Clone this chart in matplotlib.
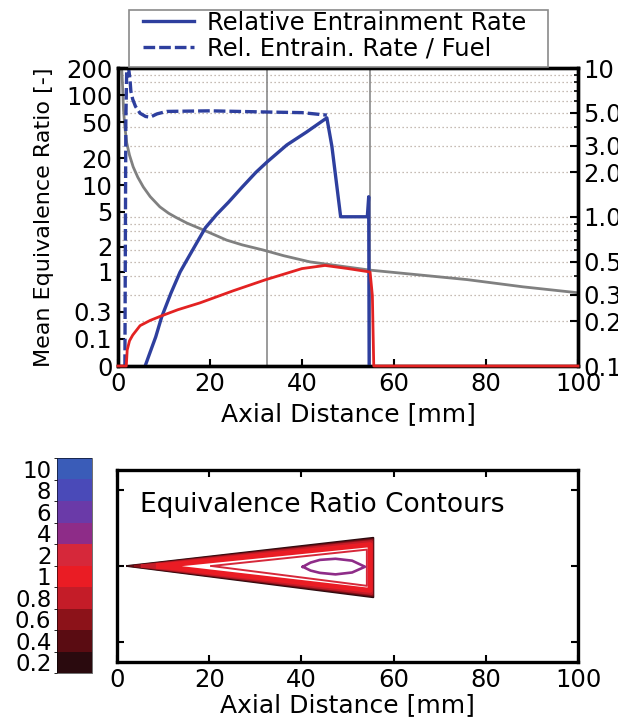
import numpy as np
import matplotlib
matplotlib.use("Agg")
import matplotlib.pyplot as plt
from matplotlib.colors import ListedColormap, BoundaryNorm
from matplotlib.cm import ScalarMappable
from matplotlib.patches import Rectangle
from matplotlib.ticker import LogLocator, NullLocator, NullFormatter

plt.rcParams['font.family'] = ['DejaVu Sans']

# ---- upper plot data ----
# relative entrainment rate (left axis)
rer_x = [5.9, 7.0, 8.2, 9.5, 11.5, 13.5, 15.0, 17.0, 19.0, 21.5, 24.0, 27.0, 30.0,
         32.4, 36.7, 41.0, 45.4, 46.5, 47.6, 48.4, 50.0, 52.0, 54.2, 54.5, 54.6]
rer_y = [0.0, 0.043, 0.11, 0.25, 0.54, 1.0, 1.4, 2.16, 3.3, 4.7, 6.4, 9.5, 13.9,
         18.1, 28.0, 39.0, 56.0, 27.0, 9.5, 4.4, 4.4, 4.4, 4.4, 7.4, 0.0]

# rel. entrainment rate / fuel (left axis)
rerf_x = [1.5, 1.7, 1.9, 2.3, 2.6, 2.8, 3.2, 3.8, 4.8, 6.0, 7.0, 8.5, 10.6, 20.0,
          32.4, 40.0, 45.4]
rerf_y = [0.0, 50.0, 200.0, 200.0, 150.0, 110.0, 90.0, 75.0, 63.0, 58.0, 57.0,
          62.0, 66.0, 67.0, 65.0, 64.0, 60.0]

# mean equivalence ratio (left axis)
mer_x = [0.0, 1.8, 2.0, 2.5, 3.2, 4.8, 7.0, 9.5, 13.0, 17.8, 25.0, 32.0, 40.0,
         45.0, 50.0, 54.8, 55.3, 55.6, 100.0]
mer_y = [0.0, 0.0, 0.05, 0.09, 0.12, 0.18, 0.22, 0.26, 0.32, 0.40, 0.58, 0.80,
         1.10, 1.20, 1.10, 1.00, 0.50, 0.0, 0.0]

# gray decay curve (right axis)
gray_x = [0.6, 0.8, 1.0, 1.2, 1.5, 1.9, 2.5, 3.3, 4.3, 5.5, 7.0, 9.1, 11.0, 12.7,
          15.0, 18.5, 23.6, 27.0, 31.6, 36.0, 41.7, 48.0, 54.8, 65.0, 75.9, 88.0,
          100.0]
gray_y = [12.0, 10.0, 7.5, 5.2, 4.0, 3.14, 2.6, 2.17, 1.85, 1.59, 1.37, 1.17, 1.06,
          0.99, 0.91, 0.82, 0.70, 0.65, 0.60, 0.55, 0.50, 0.47, 0.44, 0.41, 0.38,
          0.34, 0.31]

marker_lines = [32.3, 54.8]

left_ticks = [0, 0.1, 0.3, 1, 2, 5, 10, 20, 50, 100, 200]
left_labels = ['0', '0.1', '0.3', '1', '2', '5', '10', '20', '50', '100', '200']
right_ticks = [0.1, 0.2, 0.3, 0.5, 1, 2, 3, 5, 10]
right_labels = ['0.1', '0.2', '0.3', '0.5', '1.0', '2.0', '3.0', '5.0', '10']
x_ticks = [0, 20, 40, 60, 80, 100]

# ---- lower plot data: contour lines (x mm, y mm) ----
levels = ['0.2', '0.4', '0.6', '0.8', '1', '2', '4', '6', '8', '10']
c02_x = [2.2, 55.6, 55.6, 2.2]
c02_y = [0.0, 3.7, -4.1, 0.0]
c04_x = [3.0, 55.5, 55.5, 3.0]
c04_y = [0.0, 3.55, -3.95, 0.0]
c06_x = [4.0, 55.4, 55.4, 4.0]
c06_y = [0.0, 3.4, -3.8, 0.0]
c08_x = [5.5, 55.2, 55.2, 5.5]
c08_y = [0.0, 3.2, -3.6, 0.0]
c10_x = [9.0, 54.9, 54.9, 9.0]
c10_y = [0.0, 2.8, -3.2, 0.0]
c2_x = [20.5, 54.2, 54.2, 20.5]
c2_y = [0.0, 2.15, -2.6, 0.0]
c4_x = [40.3, 42.0, 44.0, 47.4, 51.0, 53.8, 51.0, 47.4, 44.0, 42.0, 40.3]
c4_y = [-0.1, 0.45, 0.8, 0.95, 0.7, -0.1, -0.85, -1.1, -0.9, -0.6, -0.1]

level_colors = ['#2a0a0e', '#5a0c12', '#8c1219', '#c41c28', '#ea1c24',
                '#d6283a', '#8e2c88', '#6a3aa8', '#4a4ab8', '#3a5cb8']

blue = '#2e3f9e'
red = '#e32222'
grey = '#808080'

W, H = 618, 719
fig = plt.figure(figsize=(W / 100, H / 100), dpi=100)


def fbox(l, t, r, b):
    return [l / W, 1 - b / H, (r - l) / W, (b - t) / H]


def fwd(y):
    return np.log10(1 + 10 * np.maximum(y, 0))


def inv(p):
    return (10 ** p - 1) / 10


# ---------------- upper plot ----------------
ax1 = fig.add_axes(fbox(118, 68, 578, 366))
ax2 = ax1.twinx()
ax1.set_zorder(ax2.get_zorder() + 1)
ax1.patch.set_visible(False)

ax2.set_yscale('log')
ax2.set_ylim(0.1, 10)
ax2.yaxis.set_major_locator(plt.FixedLocator(right_ticks))
ax2.set_yticklabels(right_labels)
ax2.yaxis.set_minor_locator(LogLocator(base=10, subs=np.arange(2, 10)))
ax2.yaxis.set_minor_formatter(NullFormatter())
ax2.grid(True, which='both', axis='y', linestyle=(0, (1, 2.2)), color='#b4a79c', lw=0.9)
ax2.plot(gray_x, gray_y, color=grey, lw=2)
for xv in marker_lines:
    ax2.axvline(xv, color=grey, lw=1.1)
ax2.tick_params(axis='y', which='major', direction='in', length=6, width=1.5,
                labelsize=17.5, pad=4)
ax2.tick_params(axis='y', which='minor', direction='in', length=3, width=1.2)

ax1.set_yscale('function', functions=(fwd, inv))
ax1.set_ylim(0, 200)
ax1.set_xlim(0, 100)
ax1.set_yticks(left_ticks)
ax1.set_yticklabels(left_labels)
ax1.yaxis.set_minor_locator(NullLocator())
ax1.set_xticks(x_ticks)
l1, = ax1.plot(rer_x, rer_y, color=blue, lw=2.4, label='Relative Entrainment Rate')
l2, = ax1.plot(rerf_x, rerf_y, color=blue, lw=2.4, dashes=(3.5, 1.2),
               label='Rel. Entrain. Rate / Fuel')
ax1.plot(mer_x, mer_y, color=red, lw=2, zorder=3, clip_on=False)
ax1.tick_params(axis='both', direction='in', length=5, width=1.5, labelsize=17.5)
ax1.tick_params(axis='y', pad=4)
ax1.tick_params(axis='x', pad=4)
ax1.set_xlabel('Axial Distance [mm]', fontsize=18, labelpad=5)
ax1.set_ylabel('Mean Equivalence Ratio [-]', fontsize=16, labelpad=9)
for a in (ax1, ax2):
    for s in a.spines.values():
        s.set_linewidth(2.4)

# legend box drawn by hand so it sits on top of the axes edge
fig.add_artist(Rectangle((129 / W, 1 - 67 / H), 419 / W, 57 / H, transform=fig.transFigure,
                         facecolor='white', edgecolor='#8a8a8a', lw=1.2, zorder=5))
leg = fig.legend([l1, l2], [l1.get_label(), l2.get_label()], loc='upper left',
                 bbox_to_anchor=(143 / W, 1 - 11 / H), frameon=False, fontsize=17.5,
                 borderpad=0, borderaxespad=0, handlelength=2.1, handletextpad=0.55,
                 labelspacing=0.05)
leg.set_zorder(6)

# ---------------- lower plot ----------------
ax3 = fig.add_axes(fbox(117, 470, 578, 662))
contours = [(c02_x, c02_y, 1.4), (c04_x, c04_y, 1.4), (c06_x, c06_y, 1.6),
            (c08_x, c08_y, 2.2), (c10_x, c10_y, 3.6), (c2_x, c2_y, 1.4),
            (c4_x, c4_y, 1.9)]
for i, (cx, cy, lw) in enumerate(contours):
    ax3.plot(cx, cy, color=level_colors[i], lw=lw, solid_joinstyle='round')
ax3.set_xlim(0, 100)
ax3.set_ylim(-12.6, 12.6)
ax3.set_xticks(x_ticks)
ax3.set_yticks([-10, 0, 10])
ax3.set_yticklabels([])
ax3.tick_params(direction='in', length=5, width=1.5, top=True, right=True,
                labelsize=17.5, pad=4)
ax3.set_xlabel('Axial Distance [mm]', fontsize=18, labelpad=1)
ax3.text(5, 8.0, 'Equivalence Ratio Contours', fontsize=19, va='center', ha='left')
for s in ax3.spines.values():
    s.set_linewidth(2.4)

# colorbar
cax = fig.add_axes(fbox(57, 458, 92, 673))
cmap = ListedColormap(level_colors)
norm = BoundaryNorm(np.arange(len(levels) + 1), cmap.N)
cb = fig.colorbar(ScalarMappable(norm=norm, cmap=cmap), cax=cax)
cb.set_ticks(np.arange(len(levels)) + 0.5)
cb.set_ticklabels(levels)
cax.yaxis.set_ticks_position('left')
cax.tick_params(length=0, labelsize=16.5, pad=4)
cb.outline.set_linewidth(0.4)

fig.savefig('out.png', dpi=100)
